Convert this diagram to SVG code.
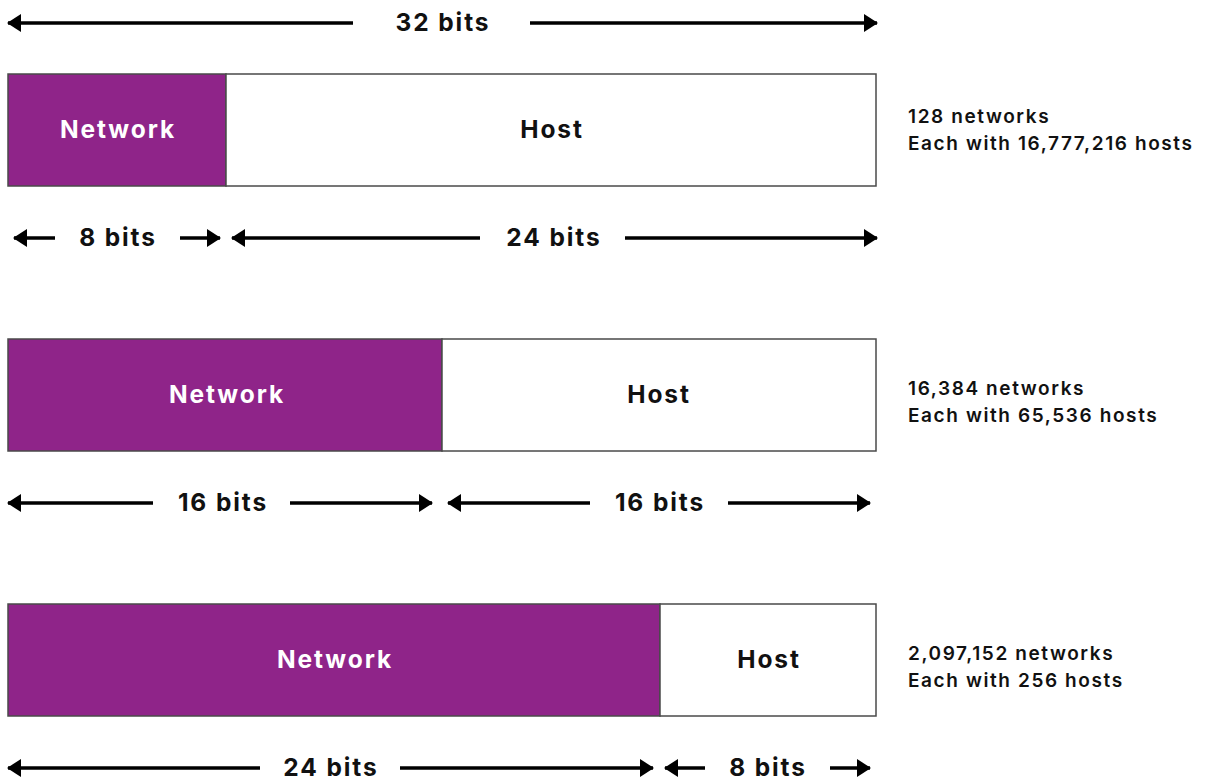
<svg xmlns="http://www.w3.org/2000/svg" width="1209" height="783" viewBox="0 0 1209 783">
<defs>
<style>
.bar{stroke:#4a4a4a;stroke-width:1.5}
.net{fill:#8f2489}
.host{fill:#ffffff}
.lbl{font-family:Inter,"Noto Sans",sans-serif;font-weight:700;font-size:24.5px;letter-spacing:1.9px;text-anchor:middle}
.w{fill:#ffffff}
.k{fill:#111111}
.info{font-family:Inter,"Noto Sans",sans-serif;font-weight:600;font-size:19px;letter-spacing:1.6px;fill:#111111}
.arr{stroke:#000;stroke-width:3.5;fill:none;marker-end:url(#ah)}
</style>
<marker id="ah" viewBox="0 0 14 18" refX="13" refY="9" markerWidth="14" markerHeight="18" markerUnits="userSpaceOnUse" orient="auto">
<path d="M0,0 L14,9 L0,18 Z" fill="#000"/>
</marker>
</defs>
<rect width="1209" height="783" fill="#ffffff"/>
<g id="row1">
<rect class="bar net" x="8" y="74" width="218" height="112"/>
<rect class="bar host" x="226" y="74" width="650" height="112"/>
<text class="lbl w" x="118" y="138">Network</text>
<text class="lbl k" x="552" y="138">Host</text>
</g>
<g id="row2">
<rect class="bar net" x="8" y="339" width="434" height="112"/>
<rect class="bar host" x="442" y="339" width="434" height="112"/>
<text class="lbl w" x="227" y="403">Network</text>
<text class="lbl k" x="659" y="403">Host</text>
</g>
<g id="row3">
<rect class="bar net" x="8" y="604" width="652" height="112"/>
<rect class="bar host" x="660" y="604" width="216" height="112"/>
<text class="lbl w" x="335" y="668">Network</text>
<text class="lbl k" x="769" y="668">Host</text>
</g>
<g id="info">
<text class="info" x="908" y="123">128 networks</text>
<text class="info" x="908" y="150">Each with 16,777,216 hosts</text>
<text class="info" x="908" y="395">16,384 networks</text>
<text class="info" x="908" y="422">Each with 65,536 hosts</text>
<text class="info" x="908" y="660">2,097,152 networks</text>
<text class="info" x="908" y="687">Each with 256 hosts</text>
</g>
<g id="connectors">
<path class="arr" d="M353,23 H8"/>
<path class="arr" d="M530,23 H877"/>
<text class="lbl k" x="443" y="31">32 bits</text>

<path class="arr" d="M55,238 H14"/>
<path class="arr" d="M180,238 H220"/>
<text class="lbl k" x="118" y="246">8 bits</text>
<path class="arr" d="M480,238 H232"/>
<path class="arr" d="M625,238 H877"/>
<text class="lbl k" x="554" y="246">24 bits</text>

<path class="arr" d="M153,503 H8"/>
<path class="arr" d="M290,503 H432"/>
<text class="lbl k" x="223" y="511">16 bits</text>
<path class="arr" d="M590,503 H448"/>
<path class="arr" d="M728,503 H870"/>
<text class="lbl k" x="660" y="511">16 bits</text>

<path class="arr" d="M260,768 H8"/>
<path class="arr" d="M400,768 H653"/>
<text class="lbl k" x="331" y="776">24 bits</text>
<path class="arr" d="M705,768 H665"/>
<path class="arr" d="M830,768 H870"/>
<text class="lbl k" x="768" y="776">8 bits</text>
</g>
</svg>
